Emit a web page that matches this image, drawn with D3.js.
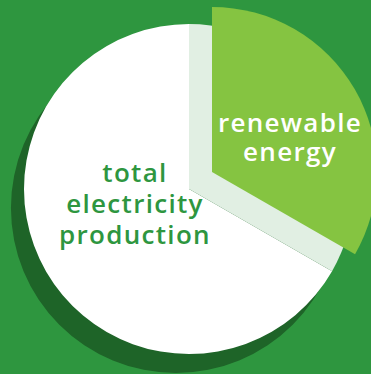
<!DOCTYPE html>
<html>
<head>
<meta charset="utf-8">
<script src="https://cdn.jsdelivr.net/npm/d3@7"></script>
<style>
  html, body { margin: 0; padding: 0; background: #2e963f; }
  svg { display: block; }
</style>
</head>
<body>
<div id="chart"></div>
<script>
// data
const categories = ['renewable energy', 'total electricity production'];
const values = [33.3, 66.7];
const labelLines = [['renewable', 'energy'], ['total', 'electricity', 'production']];

const width = 371, height = 374;
const cx = 189, cy = 189, radius = 165;

const svg = d3.select('#chart')
  .append('svg')
  .attr('width', width)
  .attr('height', height);

svg.append('rect')
  .attr('width', width)
  .attr('height', height)
  .attr('fill', '#2e963f');

const data = categories.map((c, i) => ({ name: c, value: values[i], lines: labelLines[i] }));

const pie = d3.pie()
  .sort(null)
  .value(d => d.value);
const arcs = pie(data);

const arc = d3.arc()
  .innerRadius(0)
  .outerRadius(radius);

// shadow below the pie
const fullArc = { startAngle: 0, endAngle: 2 * Math.PI };
svg.append('path')
  .attr('transform', `translate(${cx - 13}, ${cy + 19})`)
  .attr('d', arc(fullArc))
  .attr('fill', '#1e6428');

const g = svg.append('g')
  .attr('transform', `translate(${cx}, ${cy})`);

// total production slice
g.append('path')
  .attr('d', arc(arcs[1]))
  .attr('fill', '#ffffff');

// empty slot where the renewable slice was
g.append('path')
  .attr('d', arc(arcs[0]))
  .attr('fill', '#e1efe3');

// exploded renewable slice
const explode = [23, -17];
const gOut = g.append('g')
  .attr('transform', `translate(${explode[0]}, ${explode[1]})`);
gOut.append('path')
  .attr('d', arc(arcs[0]))
  .attr('fill', '#85c441');

// labels
const fontSize = 26;
const lineH = 29;

gOut.append('text')
  .attr('text-anchor', 'middle')
  .attr('font-family', 'Open Sans, sans-serif')
  .attr('font-weight', 600)
  .attr('font-size', fontSize)
  .attr('letter-spacing', 1.3)
  .attr('fill', '#ffffff')
  .selectAll('tspan')
  .data(arcs[0].data.lines)
  .join('tspan')
  .attr('x', 290 - cx - explode[0])
  .attr('y', (d, i) => 132 - cy - explode[1] + i * lineH)
  .text(d => d);

g.append('text')
  .attr('text-anchor', 'middle')
  .attr('font-family', 'Open Sans, sans-serif')
  .attr('font-weight', 600)
  .attr('font-size', fontSize)
  .attr('letter-spacing', 1.3)
  .attr('fill', '#2e963f')
  .selectAll('tspan')
  .data(arcs[1].data.lines)
  .join('tspan')
  .attr('x', 135 - cx)
  .attr('y', (d, i) => 182 - cy + i * 31)
  .text(d => d);
</script>
</body>
</html>
